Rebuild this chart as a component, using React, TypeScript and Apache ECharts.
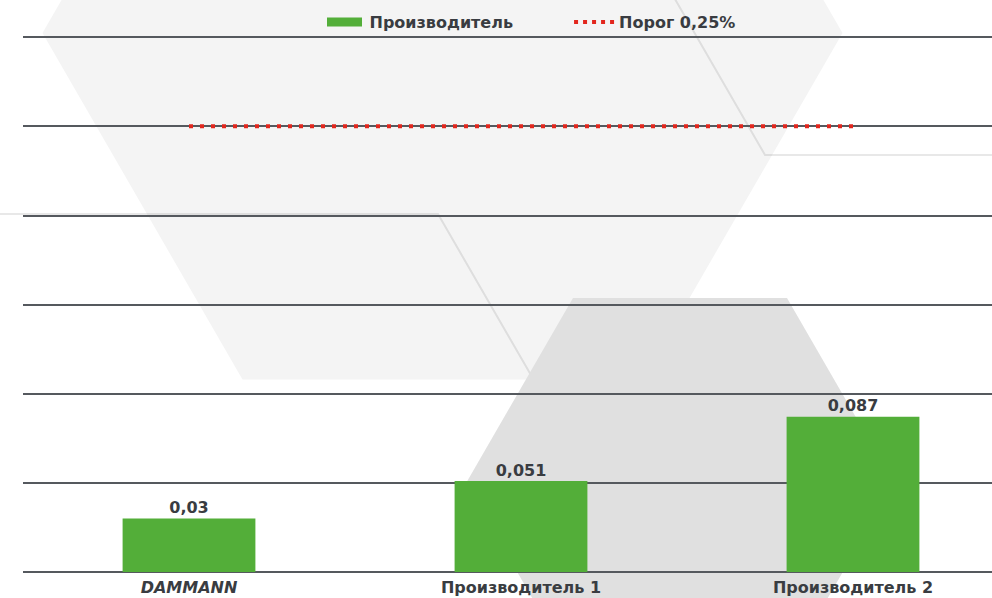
import React, { useEffect, useRef } from "react";
import * as echarts from "echarts";

const categories = ["DAMMANN", "Производитель 1", "Производитель 2"];
const producerValues = [0.03, 0.051, 0.087];
const thresholdValues = [0.25, 0.25, 0.25];
const seriesNames = ["Производитель", "Порог 0,25%"];

const TEXT = "#393c41";
const FONT = "'DejaVu Sans', sans-serif";
const GREEN = "#53ae39";
const RED = "#e2261d";

const fmt = (v: number) => String(v).replace(".", ",");

export default function App() {
  const ref = useRef<HTMLDivElement>(null);
  useEffect(() => {
    if (!ref.current) return;
    const chart = echarts.init(ref.current, undefined, { renderer: "svg" });
    const s = 0.57735;
    chart.setOption({
      animation: false,
      backgroundColor: "#ffffff",
      graphic: [
        {
          type: "polygon",
          z: -20,
          silent: true,
          shape: {
            points: [
              [42.5, 33], [242.5, 379.4], [642.5, 379.4],
              [842.5, 33], [642.5, -313.4], [242.5, -313.4],
            ],
          },
          style: { fill: "#f4f4f4" },
        },
        {
          type: "polyline",
          z: -19,
          silent: true,
          shape: { points: [[765 - 190 * s, -35], [765, 155], [1000, 155]] },
          style: { stroke: "rgba(0,0,0,0.09)", lineWidth: 2, fill: "none" },
        },
        {
          type: "polyline",
          z: -19,
          silent: true,
          shape: { points: [[-10, 214], [438, 214], [438 + 400 * s, 614]] },
          style: { stroke: "rgba(0,0,0,0.09)", lineWidth: 2, fill: "none" },
        },
        {
          type: "polygon",
          z: -18,
          silent: true,
          shape: {
            points: [
              [466, 483.3], [573, 298], [787, 298],
              [894, 483.3], [787, 668.6], [573, 668.6],
            ],
          },
          style: { fill: "#e0e0e0" },
        },
      ],
      legend: {
        left: 327,
        top: 14,
        padding: 0,
        itemWidth: 40,
        itemHeight: 9,
        itemGap: 61,
        textStyle: { color: TEXT, fontFamily: FONT, fontWeight: "bold", fontSize: 16 },
        data: [
          { name: seriesNames[0], icon: "path://M0,0h35v9h-35z" },
          {
            name: seriesNames[1],
            icon: "path://M0,0h4v4h-4z M9,0h4v4h-4z M18,0h4v4h-4z M27,0h4v4h-4z M36,0h4v4h-4z",
          },
        ],
      },
      grid: {
        left: 23,
        width: 996,
        top: 37,
        bottom: 26,
        containLabel: false,
        outerBoundsMode: "none",
      },
      xAxis: {
        type: "category",
        data: categories.map((c, i) =>
          i === 0 ? { value: c, textStyle: { fontStyle: "italic" } } : c
        ),
        axisLine: { show: false },
        axisTick: { show: false },
        axisLabel: {
          color: TEXT,
          fontFamily: FONT,
          fontWeight: "bold",
          fontSize: 16,
          margin: 7,
        },
      },
      yAxis: {
        type: "value",
        min: 0,
        max: 0.3,
        interval: 0.05,
        axisLabel: { show: false },
        axisLine: { show: false },
        axisTick: { show: false },
        splitLine: { lineStyle: { color: "#55595e", width: 2 } },
      },
      series: [
        {
          name: seriesNames[0],
          type: "bar",
          data: producerValues,
          barWidth: "40%",
          itemStyle: { color: GREEN },
          label: {
            show: true,
            position: "top",
            distance: 3,
            color: TEXT,
            fontFamily: FONT,
            fontWeight: "bold",
            fontSize: 16,
            formatter: (p: any) => fmt(p.value),
          },
        },
        {
          name: seriesNames[1],
          type: "line",
          data: thresholdValues,
          symbol: "none",
          z: 5,
          itemStyle: { color: RED },
          lineStyle: { color: RED, width: 4, type: [4, 7], cap: "butt" },
        },
      ],
    });
    return () => chart.dispose();
  }, []);
  return (
    <div
      ref={ref}
      style={{ position: "fixed", left: 0, top: 0, width: 992, height: 598 }}
    />
  );
}
